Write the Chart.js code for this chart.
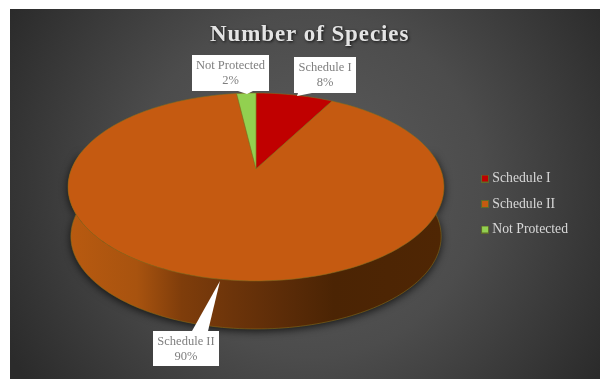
<!DOCTYPE html>
<html>
<head>
<meta charset="utf-8">
<title>Number of Species</title>
<script src="https://cdn.jsdelivr.net/npm/chart.js@4/dist/chart.umd.js"></script>
<style>
  html, body { margin: 0; background: #fff; overflow: hidden; }
  #panel {
    position: absolute; left: 10px; top: 9px; right: 0; bottom: 0;
    background: radial-gradient(circle 345px at 300px 175px, #5c5c5c 0%, #4c4c4c 50%, #2b2b2b 100%);
  }
  #myChart { position: absolute; left: 0; top: 0; }
</style>
</head>
<body>
<div id="panel"></div>
<canvas id="myChart" width="600" height="379"></canvas>
<script>
var categories = ['Schedule I', 'Schedule II', 'Not Protected'];
var percents = [8, 90, 2];
var sliceColors = ['#c00000', '#c55a11', '#92d050'];

// tilted disc: apex of the pie and the perspective of the top face
var cx = 256, cy = 169, radX = 184.5, radY = 90.5, tilt = 0.1915;
var wallDepth = 49.7, wallShrink = 0.985;

function rim(angle, lower) {
  var u = Math.cos(angle), v = Math.sin(angle), w = 1 - tilt * v;
  var s = lower ? wallShrink : 1;
  return {
    x: cx + s * radX * u / w,
    y: cy + (lower ? wallDepth : 0) + s * radY * v / w
  };
}

function traceRim(ctx, from, to, lower) {
  var steps = Math.max(2, Math.ceil(Math.abs(to - from) * 40));
  for (var i = 0; i <= steps; i++) {
    var p = rim(from + (to - from) * i / steps, lower);
    ctx.lineTo(p.x, p.y);
  }
}

class TiltedArc extends Chart.ArcElement {
  static id = 'tiltedArc';

  draw(ctx) {
    var opts = this.options;
    ctx.save();
    this.drawWall(ctx, opts);
    ctx.beginPath();
    ctx.moveTo(cx, cy);
    traceRim(ctx, this.startAngle, this.endAngle, false);
    ctx.closePath();
    ctx.fillStyle = opts.backgroundColor;
    ctx.fill();
    ctx.strokeStyle = opts.borderColor;
    ctx.lineWidth = opts.borderWidth;
    ctx.stroke();
    ctx.restore();
  }

  // only the front part of the rim is visible
  drawWall(ctx, opts) {
    var from = Math.max(this.startAngle, -0.2);
    var to = Math.min(this.endAngle, Math.PI + 0.2);
    if (to <= from) return;

    var shade = ctx.createLinearGradient(70, 0, 442, 0);
    shade.addColorStop(0, '#b85a10');
    shade.addColorStop(0.18, '#a8530f');
    shade.addColorStop(0.3, '#7f3d0b');
    shade.addColorStop(0.44, '#6c340a');
    shade.addColorStop(0.57, '#5c2c08');
    shade.addColorStop(0.71, '#4b2404');
    shade.addColorStop(1, '#4f2604');

    ctx.save();
    ctx.beginPath();
    traceRim(ctx, from, to, false);
    traceRim(ctx, to, from, true);
    ctx.closePath();
    ctx.shadowColor = 'rgba(0,0,0,0.75)';
    ctx.shadowBlur = 8;
    ctx.shadowOffsetY = 2;
    ctx.fillStyle = shade;
    ctx.fill();
    ctx.restore();

    ctx.beginPath();
    traceRim(ctx, from, to, true);
    ctx.strokeStyle = opts.borderColor;
    ctx.lineWidth = opts.borderWidth;
    ctx.stroke();
  }
}

class TiltedPie extends Chart.PieController {
  static id = 'tiltedPie';
  static defaults = { dataElementType: 'tiltedArc' };
}

Chart.register(TiltedArc, TiltedPie);

function swatch(color) {
  var c = document.createElement('canvas');
  c.width = 8;
  c.height = 8;
  var g = c.getContext('2d');
  g.fillStyle = '#5f6b2a';
  g.fillRect(0, 0, 8, 8);
  g.fillStyle = color;
  g.fillRect(1, 1, 6, 6);
  return c;
}

// heading with spaced letters
var headingPlugin = {
  id: 'heading',
  afterDraw: function(chart) {
    var ctx = chart.ctx;
    ctx.save();
    ctx.font = 'bold 23px "Liberation Serif"';
    ctx.letterSpacing = '0.9px';
    ctx.textAlign = 'left';
    ctx.fillStyle = '#e4e4e4';
    ctx.shadowColor = 'rgba(0,0,0,0.8)';
    ctx.shadowBlur = 3;
    ctx.shadowOffsetX = 1;
    ctx.shadowOffsetY = 1;
    ctx.fillText('Number of Species', 210, 41);
    ctx.restore();
  }
};

// white boxes with a pointer for the slice labels
var calloutBoxes = [
  { left: 294, top: 57, width: 62, height: 36, pointer: [[298, 93], [312, 93], [297, 96]] },
  { left: 153, top: 331, width: 66, height: 35, pointer: [[192, 331], [208, 331], [220, 281]] },
  { left: 192, top: 55, width: 77, height: 36, pointer: [[238, 91], [253, 91], [247, 94]] }
];

var calloutPlugin = {
  id: 'callouts',
  afterDatasetsDraw: function(chart) {
    var ctx = chart.ctx;
    ctx.save();
    ctx.font = '12.5px "Liberation Serif"';
    ctx.textAlign = 'center';
    ctx.textBaseline = 'middle';
    calloutBoxes.forEach(function(box, i) {
      ctx.fillStyle = '#ffffff';
      ctx.fillRect(box.left, box.top, box.width, box.height);
      ctx.beginPath();
      box.pointer.forEach(function(p) { ctx.lineTo(p[0], p[1]); });
      ctx.closePath();
      ctx.fill();
      var mid = box.left + box.width / 2;
      ctx.fillStyle = '#7f7f7f';
      ctx.fillText(categories[i], mid, box.top + 11);
      ctx.fillText(percents[i] + '%', mid, box.top + 26);
    });
    ctx.restore();
  }
};

var ctx = document.getElementById('myChart').getContext('2d');

var myChart = new Chart(ctx, {
  type: 'tiltedPie',
  data: {
    labels: categories,
    datasets: [{
      data: percents,
      backgroundColor: sliceColors,
      borderColor: 'rgba(135,110,25,0.75)',
      borderWidth: 0.75
    }]
  },
  options: {
    responsive: false,
    animation: false,
    layout: { padding: { top: 29, right: 22 } },
    plugins: {
      title: { display: false },
      tooltip: { enabled: false },
      legend: {
        position: 'right',
        labels: {
          usePointStyle: true,
          pointStyleWidth: 1,
          padding: 11.8,
          color: '#d9d9d9',
          font: { family: '"Liberation Serif"', size: 13.7 },
          generateLabels: function() {
            return categories.map(function(name, i) {
              return { text: name, pointStyle: swatch(sliceColors[i]), fontColor: '#d9d9d9', index: i };
            });
          }
        }
      }
    }
  },
  plugins: [calloutPlugin, headingPlugin]
});
</script>
</body>
</html>
